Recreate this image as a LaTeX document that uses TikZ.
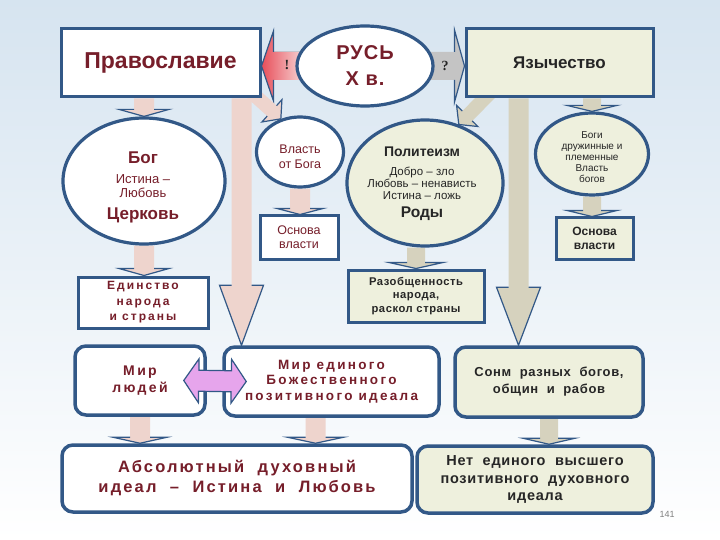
\documentclass[tikz,border=0pt]{standalone}
\usepackage{fontspec}
\setmainfont{Liberation Sans}
\newfontfamily\serb{Liberation Serif}
\newfontfamily\lsA[LetterSpace=17]{Liberation Sans}
\newfontfamily\lsC[LetterSpace=13]{Liberation Sans}
\newfontfamily\lsB[LetterSpace=5]{Liberation Sans}
\usetikzlibrary{shapes.geometric,calc}
\definecolor{bd}{RGB}{50,88,135}
\definecolor{tred}{RGB}{118,30,42}
\definecolor{tdark}{RGB}{38,38,38}
\definecolor{beige}{RGB}{238,240,221}
\definecolor{pinkA}{RGB}{238,212,205}
\definecolor{grayA}{RGB}{214,210,190}
\definecolor{grayQ}{RGB}{196,196,196}
\definecolor{violetA}{RGB}{230,165,236}
\definecolor{redA}{RGB}{232,78,90}
\definecolor{pinkB}{RGB}{246,214,214}
\definecolor{bgtop}{RGB}{214,228,240}
\definecolor{bgmid}{RGB}{236,242,247}
\pgfdeclarelayer{bg}\pgfdeclarelayer{arr}\pgfsetlayers{bg,arr,main}
\newcommand\barrow[6]{%
 \fill[#1] let \p1=(#2),\p2=(#3),\n1={veclen(\x2-\x1,\y2-\y1)},\n2={atan2(\y2-\y1,\x2-\x1)} in
  [shift={(\p1)},rotate=\n2] (0pt,#4pt) -- ({\n1-#6pt},#4pt) -- ({\n1-#6pt},#5pt) -- ({\n1+0pt},0pt)
  -- ({\n1-#6pt},-#5pt) -- ({\n1-#6pt},-#4pt) -- (0pt,-#4pt) -- cycle;
 \draw[bd,line width=1.2pt] let \p1=(#2),\p2=(#3),\n1={veclen(\x2-\x1,\y2-\y1)},\n2={atan2(\y2-\y1,\x2-\x1)} in
  [shift={(\p1)},rotate=\n2] ({\n1-#6pt},#4pt) -- ({\n1-#6pt},#5pt) -- ({\n1+0pt},0pt)
  -- ({\n1-#6pt},-#5pt) -- ({\n1-#6pt},-#4pt);}
\newcommand\dbarrow[6]{%
 \filldraw[#1] let \p1=(#2),\p2=(#3),\n1={veclen(\x2-\x1,\y2-\y1)},\n2={atan2(\y2-\y1,\x2-\x1)} in
  [shift={(\p1)},rotate=\n2] (0pt,0pt) -- (#6pt,#5pt) -- (#6pt,#4pt) -- ({\n1-#6pt},#4pt) -- ({\n1-#6pt},#5pt)
  -- ({\n1+0pt},0pt) -- ({\n1-#6pt},-#5pt) -- ({\n1-#6pt},-#4pt) -- (#6pt,-#4pt) -- (#6pt,-#5pt) -- cycle;}
\begin{document}
\begin{tikzpicture}[x=1pt,y=-1pt,
  bx/.style={draw=bd,line width=3pt,fill=white,align=center,inner sep=0pt},
  ell/.style={ellipse,draw=bd,line width=3.2pt,fill=white,inner sep=0pt},
  rb/.style={bx,line width=3.5pt,rounded corners=11pt},
  tr/.style={text=tred,align=center,inner sep=0pt},
  td/.style={text=tdark,align=center,inner sep=0pt}]
\useasboundingbox (0,0) rectangle (720,540);
\begin{pgfonlayer}{bg}
\shade[top color=bgtop,middle color=bgmid,bottom color=white] (0,0) rectangle (720,540);
\end{pgfonlayer}
% top row
\node[bx,minimum width=199pt,minimum height=68pt,text=tred,font=\fontsize{23}{26}\selectfont\bfseries] (ortho) at (160.5,63) {Православие};
\node[ell,minimum width=136pt,minimum height=80pt,text=tred,align=center,font=\lsB\fontsize{20}{26}\selectfont\bfseries] (rus) at (365,66) {РУСЬ\\Х в.};
\node[bx,fill=beige,minimum width=187pt,minimum height=68pt,text=tdark,font=\fontsize{17}{20}\selectfont\bfseries] (yaz) at (559.5,63) {Язычество};
% left ellipse
\node[ell,minimum width=162pt,minimum height=126pt] (bog) at (144,181) {};
\node[tr,font=\fontsize{17}{18}\selectfont\bfseries] (bogA) at (143,158) {Бог};
\node[tr,font=\fontsize{13}{14}\selectfont] (bogB) at (143,186) {Истина –\\Любовь};
\node[tr,font=\fontsize{17}{18}\selectfont\bfseries] (bogC) at (143,215) {Церковь};
% vlast
\node[ell,minimum width=87pt,minimum height=70pt] (vlast) at (300,152) {};
\node[tr,font=\fontsize{12.5}{14.5}\selectfont] (vlastT) at (300,157) {Власть\\от Бога};
\node[bx,minimum width=78pt,minimum height=43pt,text=tred,font=\fontsize{12.5}{14}\selectfont] (osnA) at (299,237.5) {Основа\\власти};
% poly
\node[ell,fill=beige,minimum width=156pt,minimum height=126pt] (poly) at (425,183) {};
\node[td,font=\fontsize{14}{15}\selectfont\bfseries] (polyA) at (422,152) {Политеизм};
\node[td,font=\fontsize{11.5}{12}\selectfont] (polyB) at (422,183) {Добро – зло\\Любовь – ненависть\\Истина – ложь};
\node[td,font=\fontsize{15.5}{16}\selectfont\bfseries] (polyC) at (422,214) {Роды};
% bogi
\node[ell,fill=beige,minimum width=113pt,minimum height=82pt] (bogi) at (592,154) {};
\node[td,font=\fontsize{10}{11}\selectfont] (bogiT) at (592,157) {Боги\\дружинные и\\племенные\\Власть\\богов};
\node[bx,fill=beige,minimum width=77pt,minimum height=41pt,text=tdark,font=\fontsize{12}{14}\selectfont\bfseries] (osnB) at (594.5,238.5) {Основа\\власти};
% middle row
\node[bx,minimum width=130pt,minimum height=51pt,text=tred,font=\lsA\fontsize{12}{15.5}\selectfont\bfseries] (edin) at (143,302.5) {Единство\\народа\\и страны};
\node[bx,fill=beige,minimum width=136pt,minimum height=52pt,text=tdark,font=\lsB\fontsize{11.2}{13.5}\selectfont\bfseries] (razob) at (416,296) {Разобщенность\\народа,\\раскол страны};
\node[rb,minimum width=130pt,minimum height=69pt,text=tred,font=\lsA\fontsize{14}{17}\selectfont\bfseries] (mirl) at (140,380.5) {Мир\\людей};
\node[rb,minimum width=215pt,minimum height=69pt,text=tred,font=\lsA\fontsize{13.5}{15.5}\selectfont\bfseries] (mire) at (331.5,381.5) {Мир единого\\Божественного\\позитивного идеала};
\node[rb,fill=beige,minimum width=188pt,minimum height=70pt,text=tdark,font=\lsB\fontsize{13}{17}\selectfont\bfseries] (sonm) at (549,382) {Сонм\ \ разных\ \ богов,\\общин\ \ и\ \ рабов};
% bottom row
\node[rb,minimum width=350pt,minimum height=67pt,text=tred,font=\lsC\fontsize{16.5}{20}\selectfont\bfseries] (absol) at (237,478.5) {Абсолютный\ \ духовный\\идеал\ \ –\ \ Истина\ \ и\ \ Любовь};
\node[rb,fill=beige,minimum width=236pt,minimum height=67pt,text=tdark,font=\lsB\fontsize{14.5}{17.5}\selectfont\bfseries] (net) at (535,479.5) {Нет\ \ единого\ \ высшего\\позитивного\ \ духовного\\идеала};
\node[text=gray,font=\fontsize{9}{10}\selectfont] (pg) at (667,514) {141};
% coordinates
\coordinate (rW) at ([xshift=8pt]rus.west);
\coordinate (rE) at ([xshift=-8pt]rus.east);
\coordinate (oA) at ([xshift=-20pt]ortho.south east);
\coordinate (yA) at ([xshift=54pt]yaz.south west);
\coordinate (mA) at ([xshift=-16pt]mire.south);
\coordinate (dL) at ([xshift=-23pt]mirl.east);
\coordinate (dR) at ([xshift=24pt]mire.west);
\begin{pgfonlayer}{arr}
\barrow{left color=redA,right color=pinkB}{rW}{rW -| ortho.east}{14}{35}{12}
\barrow{fill=grayQ}{rE}{rE -| yaz.west}{14}{36}{10}
\barrow{fill=pinkA}{ortho.south -| bog.north}{bog.north}{10}{25}{7}
\barrow{fill=pinkA}{bog.south}{bog.south |- edin.north}{10}{25}{7}
\barrow{fill=pinkA}{oA}{oA |- mire.north}{10}{22}{60}
\barrow{fill=pinkA}{[xshift=-10pt,yshift=6pt]ortho.south east}{vlast.120}{7}{15}{12}
\barrow{fill=pinkA}{vlast.south}{vlast.south |- osnA.north}{10}{23}{6}
\barrow{fill=grayA}{[xshift=26pt,yshift=6pt]yaz.south west}{poly.60}{7}{15}{12}
\barrow{fill=grayA}{bogi.north |- yaz.south}{bogi.north}{9}{25}{6}
\barrow{fill=grayA}{bogi.south}{bogi.south |- osnB.north}{9}{25}{6}
\barrow{fill=grayA}{yA}{yA |- sonm.north}{10}{22}{58}
\barrow{fill=grayA}{razob.north |- poly.south}{razob.north}{9}{27}{6}
\barrow{fill=pinkA}{mirl.south}{mirl.south |- absol.north}{10}{27}{6}
\barrow{fill=pinkA}{mA}{mA |- absol.north}{10}{28}{6}
\barrow{fill=grayA}{sonm.south}{sonm.south |- net.north}{9}{26}{6}
\end{pgfonlayer}
\dbarrow{fill=violetA,draw=bd,line width=1.2pt}{dL}{dR}{10.5}{22}{15}
\node[font=\serb\fontsize{14}{14}\selectfont\bfseries,text=tdark] (ex) at (287,65) {!};
\node[font=\serb\fontsize{14}{14}\selectfont\bfseries,text=tdark] (qm) at (445,66) {?};
\end{tikzpicture}
\end{document}
